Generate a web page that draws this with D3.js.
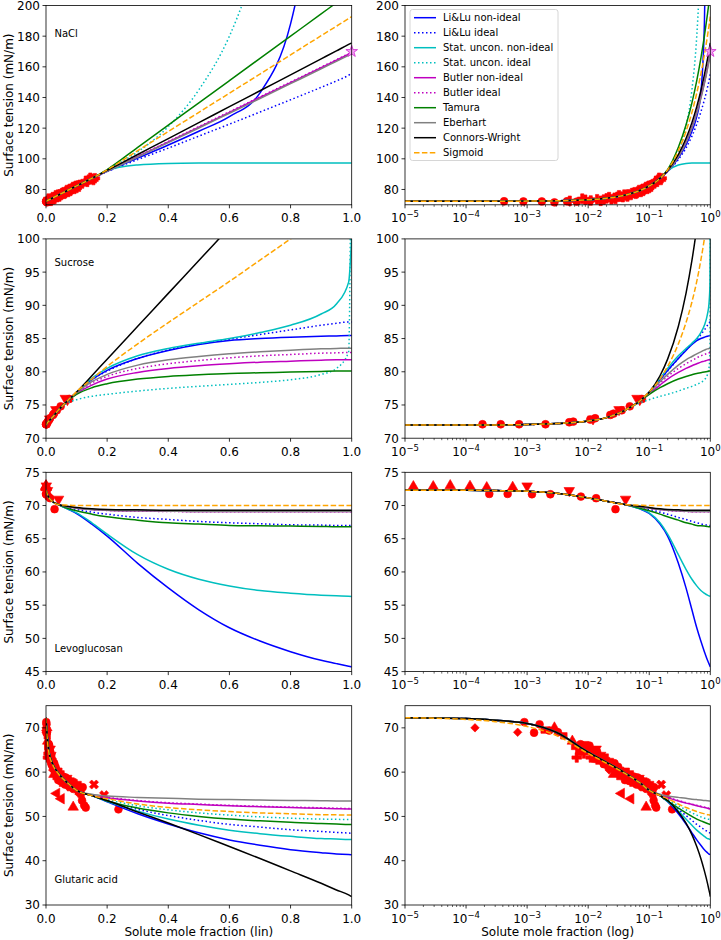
<!DOCTYPE html>
<html><head><meta charset="utf-8">
<script src="https://cdn.jsdelivr.net/npm/d3@7"></script>
<style>body{margin:0;background:#fff} text{font-family:"DejaVu Sans",sans-serif;fill:#000}</style>
</head><body><svg id="chart" width="721" height="940"></svg>
<script>
// ---------------- DATA ----------------
const xGrid = [1e-5, 1e-4, 3e-4, 1e-3, 3e-3, 0.01, 0.02, 0.04, 0.07, 0.1, 0.15, 0.2, 0.3, 0.4, 0.5, 0.6, 0.7, 0.8, 0.9, 0.95, 0.99, 1.0];
const seriesNames = ["Li&Lu non-ideal","Li&Lu ideal","Stat. uncon. non-ideal","Stat. uncon. ideal","Butler non-ideal","Butler ideal","Tamura","Eberhart","Connors-Wright","Sigmoid"];

const naclLow = [72.3, 72.3, 72.3, 72.4, 72.6, 73.3, 74.3, 76.3, 79.3, 82.3, 87.2];
const naclHigh = [ // x = 0.2 ... 1.0
  [91.8, 100.5, 109, 118, 127.5, 143, 188, 300, 380, 450, 470],
  [91.6, 99.5, 107, 114.8, 122.6, 130.5, 138.5, 146.6, 150.8, 154.5, 155.8],
  [92.3, 96.0, 97.0, 97.25, 97.3, 97.3, 97.3, 97.3, 97.3, 97.3, 97.3],
  [93.0, 104.5, 121, 145, 180, 235, 310, 400, 450, 480, 500],
  [92.0, 101.5, 111, 120.6, 130.3, 140, 149.7, 159.4, 164.3, 168.2, 169.2],
  [92.1, 101.7, 111.3, 121, 130.7, 140.4, 150.1, 159.8, 164.7, 168.6, 169.6],
  [93.0, 107.5, 122, 136.5, 151, 165.5, 180, 194.5, 201.8, 207.6, 209],
  [91.9, 101.2, 110.6, 120.1, 129.7, 139.3, 149, 158.7, 163.6, 167.5, 168.5],
  [92.4, 102.8, 113.2, 123.6, 134, 144.4, 154.8, 165.2, 170.4, 174.6, 175.6],
  [92.8, 105.3, 117.8, 130.3, 142.8, 155.3, 167.8, 180.3, 186.5, 191.5, 192.8]
];
const naclCircles = [[4.2e-4,72.3],[8.7e-4,72.2],[1.74e-3,72.2],[2.8e-3,71.6],[4.5e-3,72.3],[6.5e-3,72.1],[1.07e-2,72.6]];
const naclPlus = [[0.009,73.3],[0.011,72.8],[0.014,73.6],[0.018,73.4],[0.02,74.2],[0.024,73.6],[0.027,74.6],[0.03,75.2],[0.034,75.3],[0.037,75.0],[0.041,76.2],[0.045,76.8],[0.05,76.4],[0.055,77.8],[0.06,77.2],[0.065,78.6],[0.07,78.8],[0.075,79.8],[0.08,79.1],[0.085,80.6],[0.09,81.2],[0.095,81.8],[0.1,81.0],[0.105,82.6],[0.11,83.0],[0.13,85.6],[0.14,86.4],[0.15,86.9],[0.16,87.3],
  [0.005,72.6],[0.008,74.0],[0.016,72.6],[0.022,75.0],[0.028,73.8],[0.032,76.2],[0.039,76.6],[0.044,75.4],[0.052,77.6],[0.058,78.2],[0.063,77.6],[0.068,79.6],[0.073,78.4],[0.078,80.4],[0.083,80.0],[0.088,81.6],[0.093,80.4],[0.098,82.4],[0.108,81.8],[0.135,85.0],[0.145,87.6],[0.155,86.2]];
const naclStar = [[1.0,170]];

const sucroseLow = [72.0, 72.0, 72.0, 72.05, 72.2, 72.6, 73.1, 74.2, 75.6];
const sucroseHigh = [ // x = 0.1 ... 1.0
  [76.9, 78.8, 80.2, 82.0, 83.2, 84.1, 84.7, 85.0, 85.2, 85.35, 85.4, 85.45, 85.45],
  [76.9, 78.8, 80.1, 82.0, 83.3, 84.2, 84.9, 85.6, 86.3, 87.0, 87.3, 87.5, 87.5],
  [76.9, 79.0, 80.5, 82.4, 83.5, 84.3, 85.0, 85.9, 87.0, 88.7, 90.2, 93.5, 100.5],
  [75.8, 76.3, 76.6, 77.1, 77.5, 77.8, 78.1, 78.4, 78.8, 79.6, 80.5, 83.0, 130],
  [76.7, 78.0, 78.9, 79.9, 80.5, 80.9, 81.2, 81.45, 81.6, 81.75, 81.8, 81.8, 81.8],
  [76.8, 78.3, 79.3, 80.5, 81.2, 81.7, 82.1, 82.4, 82.6, 82.8, 82.85, 82.9, 82.9],
  [76.6, 77.6, 78.2, 78.9, 79.3, 79.55, 79.75, 79.85, 79.95, 80.05, 80.1, 80.1, 80.1],
  [76.8, 78.5, 79.6, 81.0, 81.8, 82.3, 82.7, 83.0, 83.25, 83.45, 83.5, 83.55, 83.55],
  [76.95, 79.4, 81.9, 86.85, 91.8, 96.75, 101.7, 106.65, 111.6, 116.55, 119.0, 121.0, 121.5],
  [77.0, 78.9, 80.8, 84.2, 87.4, 90.5, 93.6, 96.8, 100.0, 103.2, 104.8, 106.0, 106.4]
];
const sucroseStatIdealAt007 = 75.3;
const sucroseCircles = [[1.86e-4,72.1],[3.7e-4,72.1],[7.4e-4,72.1],[2.0e-3,72.1],[4.9e-3,72.4],[5.7e-3,72.5],[1.08e-2,72.8],[1.3e-2,73.0],[2.3e-2,73.5],[2.6e-2,73.7],[3.55e-2,74.2],[4.8e-2,74.8],[7.6e-2,75.9]];
const sucroseDown = [[6.3e-2,76.0],[7.0e-2,75.8],[1.2e-2,72.9],[3.2e-2,74.3]];

const levoLow = [72.3, 72.3, 72.25, 72.15, 71.85, 71.15, 70.65, 70.15];
const levoHigh = [ // x = 0.07 ... 1.0
  [69.5, 68.8, 67.2, 65.4, 61.3, 57.6, 54.3, 51.6, 49.6, 48.0, 46.7, 46.2, 45.8, 45.7],
  [69.7, 69.4, 69.0, 68.7, 68.2, 67.9, 67.6, 67.4, 67.25, 67.1, 67.05, 67.0, 67.0, 67.0],
  [69.5, 68.9, 67.4, 65.7, 62.6, 60.4, 58.9, 57.9, 57.2, 56.8, 56.5, 56.4, 56.35, 56.3],
  [69.8, 69.6, 69.4, 69.3, 69.25, 69.2, 69.2, 69.2, 69.2, 69.2, 69.2, 69.2, 69.2, 69.2],
  [69.8, 69.6, 69.4, 69.3, 69.2, 69.15, 69.1, 69.1, 69.1, 69.1, 69.1, 69.1, 69.1, 69.1],
  [69.8, 69.6, 69.4, 69.25, 69.15, 69.1, 69.05, 69.05, 69.05, 69.05, 69.05, 69.05, 69.05, 69.05],
  [69.6, 69.2, 68.7, 68.3, 67.8, 67.4, 67.2, 67.0, 66.95, 66.9, 66.85, 66.8, 66.8, 66.8],
  [69.8, 69.6, 69.4, 69.3, 69.2, 69.15, 69.1, 69.1, 69.1, 69.1, 69.1, 69.1, 69.1, 69.1],
  [69.9, 69.7, 69.5, 69.4, 69.35, 69.3, 69.3, 69.3, 69.3, 69.3, 69.3, 69.3, 69.3, 69.3],
  [70.05, 70.0, 70.0, 70.0, 70.0, 70.0, 70.0, 70.0, 70.0, 70.0, 70.0, 70.0, 70.0, 70.0]
];
const levoUp = [[1.37e-5,72.85],[2.9e-5,72.85],[5.5e-5,73.0],[1.16e-4,72.9],[2.18e-4,72.7],[5.8e-4,72.75]];
const levoCircles = [[2.4e-4,71.75],[4.8e-4,71.75],[1.2e-3,71.7],[2.4e-3,71.7],[7.6e-3,71.35],[1.35e-2,71.1],[2.8e-2,69.45]];
const levoDown = [[1.0e-3,72.95],[4.9e-3,72.25],[4.1e-2,70.95]];

const glutLow = [72.3, 72.1, 71.7, 71.0, 69.0, 64.5, 62.2, 59.8, 57.6, 55.9, 54.7];
const glutSigmoidLow = [72.3, 71.9, 71.4, 70.3, 68.3, 64.2, 62.0, 59.7, 57.6, 55.9, 54.7];
const glutHigh = [ // x = 0.2 ... 1.0
  [53.3, 50.6, 48.3, 46.3, 44.7, 43.5, 42.5, 41.8, 41.5, 41.4, 41.35],
  [53.5, 51.6, 50.2, 49.1, 48.2, 47.6, 47.0, 46.6, 46.4, 46.25, 46.2],
  [53.4, 51.2, 49.4, 48.0, 46.9, 46.1, 45.5, 45.0, 44.9, 44.8, 44.8],
  [53.8, 52.4, 51.5, 50.8, 50.3, 49.9, 49.6, 49.4, 49.35, 49.3, 49.3],
  [54.2, 53.5, 53.0, 52.7, 52.4, 52.2, 52.0, 51.85, 51.75, 51.7, 51.7],
  [54.3, 53.6, 53.1, 52.8, 52.5, 52.3, 52.1, 51.95, 51.85, 51.8, 51.8],
  [53.5, 51.9, 50.8, 50.0, 49.4, 49.0, 48.7, 48.4, 48.3, 48.2, 48.2],
  [54.6, 54.3, 54.1, 53.9, 53.8, 53.7, 53.6, 53.55, 53.5, 53.5, 53.5],
  [53.6, 51.0, 48.5, 45.9, 43.2, 40.5, 37.7, 34.9, 33.4, 32.3, 31.9],
  [54.0, 52.8, 52.0, 51.5, 51.1, 50.8, 50.6, 50.4, 50.35, 50.3, 50.3]
];
const glutPoints = [ // x, y, marker
  [1.4e-4,70.0,"D"],[7e-4,69.0,"D"],[9e-4,71.3,"h"],[1.3e-3,68.9,"h"],[1.6e-3,70.8,"p"],[1.9e-3,69.5,"s"],[2.3e-3,69.4,"o"],[2.8e-3,70.0,"^"],[3.2e-3,69.0,"o"],
  [5.5e-3,67.0,"^"],[6.5e-3,63.3,"P"],[7e-3,64.5,"s"],[8e-3,65.5,"h"],[9e-3,66.2,"s"],[1e-2,64.8,"o"],[1.1e-2,63.3,"P"],[1.2e-2,64.0,"s"],[1.3e-2,63.5,"v"],
  [1.5e-2,62.5,"s"],[1.6e-2,63.8,"v"],[1.8e-2,61.8,"o"],[2e-2,62.6,"s"],[2.2e-2,60.5,"D"],[2.4e-2,61.8,"o"],[2.6e-2,59.5,"^"],[2.8e-2,61.0,"s"],[3e-2,60.2,"o"],
  [3.3e-2,59.0,"s"],[3.6e-2,60.0,"h"],[4e-2,58.2,"o"],[4.3e-2,59.2,"s"],[4.7e-2,58.0,"p"],[5e-2,58.8,"o"],[5.4e-2,57.5,"s"],[5.8e-2,58.3,"h"],[6.2e-2,57.2,"o"],
  [6.6e-2,58.0,"s"],[7e-2,56.8,"D"],[7.5e-2,57.6,"o"],[8e-2,56.5,"s"],[8.5e-2,57.2,"h"],[9e-2,56.2,"o"],[9.5e-2,57.0,"s"],[0.1,56.0,"P"],[0.11,55.3,"o"],
  [0.035,55.2,"<"],[0.05,54.0,"<"],[0.089,52.1,"^"],[0.118,53.6,"o"],[0.125,52.5,"o"],[0.13,52.0,"h"],[0.157,57.2,"X"],[0.19,54.8,"X"],[0.237,51.6,"o"],
  [4e-3,68.2,"s"],[1.4e-2,64.6,"o"],[6.8e-2,58.6,"v"],[8.8e-2,57.8,"s"],
  [6e-3,65.8,"s"],[7.5e-3,66.3,"o"],[8.5e-3,64.2,"P"],[9.5e-3,65.6,"s"],[1.05e-2,66.0,"h"],[1.15e-2,64.8,"s"],[1.25e-2,63.0,"o"],[1.35e-2,65.2,"v"],[1.45e-2,63.6,"s"],
  [1.7e-2,62.8,"o"],[1.9e-2,63.4,"s"],[2.1e-2,61.4,"o"],[2.3e-2,62.4,"s"],[2.5e-2,60.8,"h"],[2.7e-2,62.0,"o"],[2.9e-2,59.8,"s"],[3.1e-2,61.2,"o"],[3.4e-2,60.4,"s"],
  [3.8e-2,59.4,"o"],[4.2e-2,60.2,"s"],[4.5e-2,58.6,"o"],[4.9e-2,59.6,"s"],[5.2e-2,58.2,"h"],[5.6e-2,59.0,"o"],[6e-2,57.8,"s"],[6.4e-2,58.8,"o"],[6.9e-2,57.4,"s"],
  [7.2e-2,58.4,"o"],[7.8e-2,56.8,"h"],[8.2e-2,58.0,"s"],[8.7e-2,56.6,"o"],[9.2e-2,57.6,"s"],[9.8e-2,56.4,"o"],[0.105,57.2,"s"],[0.112,56.0,"o"],[0.12,56.6,"h"],[0.115,55.0,"s"]
];

const naclYTicks = [80, 100, 120, 140, 160, 180, 200];
const sucroseYTicks = [70, 75, 80, 85, 90, 95, 100];
const levoYTicks = [45, 50, 55, 60, 65, 70, 75];
const glutYTicks = [30, 40, 50, 60, 70];
const linXTicks = [0, 0.2, 0.4, 0.6, 0.8, 1.0];
const logXExps = [-5, -4, -3, -2, -1, 0];

// ---------------- STYLE ----------------
const seriesColors = ["#0000ff","#0000ff","#00bfbf","#00bfbf","#bf00bf","#bf00bf","#008000","#808080","#000000","#ffa500"];
const seriesDash = ["", "1.5,2.5", "", "1.5,2.5", "", "1.5,2.5", "", "", "", "5.5,2.4"];
const redPts = "#ff0000";

function buildCurves(low, highs) {
  return highs.map(h => low.concat(h));
}
const naclCurves = buildCurves(naclLow, naclHigh);
const sucroseCurves = sucroseHigh.map((h, i) => {
  const low = sucroseLow.slice();
  if (i === 3) low[8] = sucroseStatIdealAt007;
  return low.concat(h);
});
const levoCurves = buildCurves(levoLow, levoHigh);
const glutCurves = glutHigh.map((h, i) => {
  let low = glutLow.slice();
  if (i === 9) low = glutSigmoidLow.slice();
  if (i === 7) low[10] = 55.0;
  return low.concat(h);
});

const panels = [
  {label: "NaCl", curves: naclCurves, yDom: [70, 200], yTicks: naclYTicks, labelY: 31,
   pts: naclCircles.map(d => [d[0], d[1], "o"]).concat(naclPlus.map(d => [d[0], d[1], "P"])), star: naclStar},
  {label: "Sucrose", curves: sucroseCurves, yDom: [70, 100], yTicks: sucroseYTicks, labelY: 27,
   pts: sucroseCircles.map(d => [d[0], d[1], "o"]).concat(sucroseDown.map(d => [d[0], d[1], "v"])), star: []},
  {label: "Levoglucosan", curves: levoCurves, yDom: [45, 75], yTicks: levoYTicks, labelY: 180,
   pts: levoUp.map(d => [d[0], d[1], "^"]).concat(levoCircles.map(d => [d[0], d[1], "o"]), levoDown.map(d => [d[0], d[1], "v"])), star: []},
  {label: "Glutaric acid", curves: glutCurves, yDom: [30, 75], yTicks: glutYTicks, labelY: 177, pts: glutPoints, star: []}
];

// ---------------- DRAW ----------------
const svg = d3.select("#chart");
const cols = [[46, 351.7], [405, 710.3]];
const rowTop = i => 5.5 + i * 233.4;
const rowH = 199.3;

function markerPath(shape) {
  let type = d3.symbolCircle, size = 48, rot = 0;
  switch (shape) {
    case "o": case "h": case "p": type = d3.symbolCircle; size = 48; break;
    case "^": type = d3.symbolTriangle; size = 48; break;
    case "v": type = d3.symbolTriangle; size = 48; rot = 180; break;
    case "<": type = d3.symbolTriangle; size = 48; rot = -90; break;
    case ">": type = d3.symbolTriangle; size = 48; rot = 90; break;
    case "s": type = d3.symbolSquare; size = 42; break;
    case "D": type = d3.symbolSquare; size = 36; rot = 45; break;
    case "P": type = d3.symbolCross; size = 52; break;
    case "X": type = d3.symbolCross; size = 52; rot = 45; break;
  }
  return {d: d3.symbol().type(type).size(size)(), rot};
}

let clipId = 0;
panels.forEach((p, r) => {
  const top = rowTop(r), bot = top + rowH;
  const y = d3.scaleLinear().domain(p.yDom).range([bot, top]);
  [0, 1].forEach(c => {
    const [x0, x1] = cols[c];
    const isLog = c === 1;
    const x = isLog ? d3.scaleLog().domain([1e-5, 1]).range([x0, x1]) : d3.scaleLinear().domain([0, 1]).range([x0, x1]);
    const g = svg.append("g");
    const cid = "clip" + (clipId++);
    g.append("clipPath").attr("id", cid).append("rect").attr("x", x0).attr("y", top).attr("width", x1 - x0).attr("height", rowH);

    // data points (under the curves)
    const pg = g.append("g");
    p.pts.forEach(d => {
      const m = markerPath(d[2]);
      pg.append("path").attr("d", m.d)
        .attr("transform", `translate(${x(d[0])},${y(d[1])}) rotate(${m.rot})`)
        .attr("fill", redPts).attr("stroke", redPts).attr("stroke-width", 0.6);
    });

    // curves
    const cg = g.append("g").attr("clip-path", `url(#${cid})`);
    const line = d3.line().x((d, i) => x(xGrid[i])).y(d => y(d)).curve(d3.curveMonotoneX);
    p.curves.forEach((vals, i) => {
      cg.append("path").attr("d", line(vals)).attr("fill", "none")
        .attr("stroke", seriesColors[i]).attr("stroke-width", 1.5)
        .attr("stroke-dasharray", seriesDash[i] || null);
    });

    // star
    p.star.forEach(d => {
      g.append("path").attr("d", d3.symbol().type(d3.symbolStar).size(42)())
        .attr("transform", `translate(${x(d[0])},${y(d[1])})`)
        .attr("fill", "#f4a6f4").attr("stroke", "#d633d6").attr("stroke-width", 0.9);
    });

    // frame
    g.append("rect").attr("x", x0).attr("y", top).attr("width", x1 - x0).attr("height", rowH)
      .attr("fill", "none").attr("stroke", "#000").attr("stroke-width", 0.8);

    // y ticks
    p.yTicks.forEach(t => {
      g.append("line").attr("x1", x0 - 3.5).attr("x2", x0).attr("y1", y(t)).attr("y2", y(t)).attr("stroke", "#000").attr("stroke-width", 0.8);
      g.append("text").attr("x", x0 - 6).attr("y", y(t)).attr("dy", "0.37em").attr("text-anchor", "end").attr("font-size", 12).text(t);
    });

    // x ticks
    if (!isLog) {
      linXTicks.forEach(t => {
        g.append("line").attr("x1", x(t)).attr("x2", x(t)).attr("y1", bot).attr("y2", bot + 3.5).attr("stroke", "#000").attr("stroke-width", 0.8);
        g.append("text").attr("x", x(t)).attr("y", bot + 17.5).attr("text-anchor", "middle").attr("font-size", 12).text(t.toFixed(1));
      });
    } else {
      logXExps.forEach(e => {
        const v = Math.pow(10, e);
        g.append("line").attr("x1", x(v)).attr("x2", x(v)).attr("y1", bot).attr("y2", bot + 3.5).attr("stroke", "#000").attr("stroke-width", 0.8);
        const t = g.append("text").attr("x", x(v)).attr("y", bot + 17.5).attr("text-anchor", "middle").attr("font-size", 12);
        t.append("tspan").text("10");
        t.append("tspan").attr("dy", -5).attr("font-size", 8.5).text(e < 0 ? "\u2212" + (-e) : String(e));
        if (e < 0) {
          for (let k = 2; k <= 9; k++) {
            const mv = k * v;
            g.append("line").attr("x1", x(mv)).attr("x2", x(mv)).attr("y1", bot).attr("y2", bot + 2).attr("stroke", "#000").attr("stroke-width", 0.6);
          }
        }
      });
    }

    if (!isLog) {
      g.append("text").attr("x", x0 + 8.5).attr("y", top + p.labelY).attr("font-size", 10).text(p.label);
      g.append("text").attr("transform", `translate(12.5,${(top + bot) / 2}) rotate(-90)`)
        .attr("text-anchor", "middle").attr("font-size", 12).text("Surface tension (mN/m)");
    }
    if (r === 3) {
      g.append("text").attr("x", (x0 + x1) / 2).attr("y", 936).attr("text-anchor", "middle").attr("font-size", 12)
        .text(isLog ? "Solute mole fraction (log)" : "Solute mole fraction (lin)");
    }
  });
});

// legend (top-right panel)
const lg = svg.append("g");
lg.append("rect").attr("x", 410).attr("y", 9.5).attr("width", 148).attr("height", 151).attr("rx", 2.5)
  .attr("fill", "#fff").attr("fill-opacity", 0.85).attr("stroke", "#cccccc").attr("stroke-width", 0.8);
seriesNames.forEach((n, i) => {
  const yy = 17.7 + i * 15;
  lg.append("line").attr("x1", 414).attr("x2", 436).attr("y1", yy).attr("y2", yy)
    .attr("stroke", seriesColors[i]).attr("stroke-width", 1.5).attr("stroke-dasharray", seriesDash[i] || null);
  lg.append("text").attr("x", 443).attr("y", yy + 3.6).attr("font-size", 10).text(n);
});
</script>
</body></html>
